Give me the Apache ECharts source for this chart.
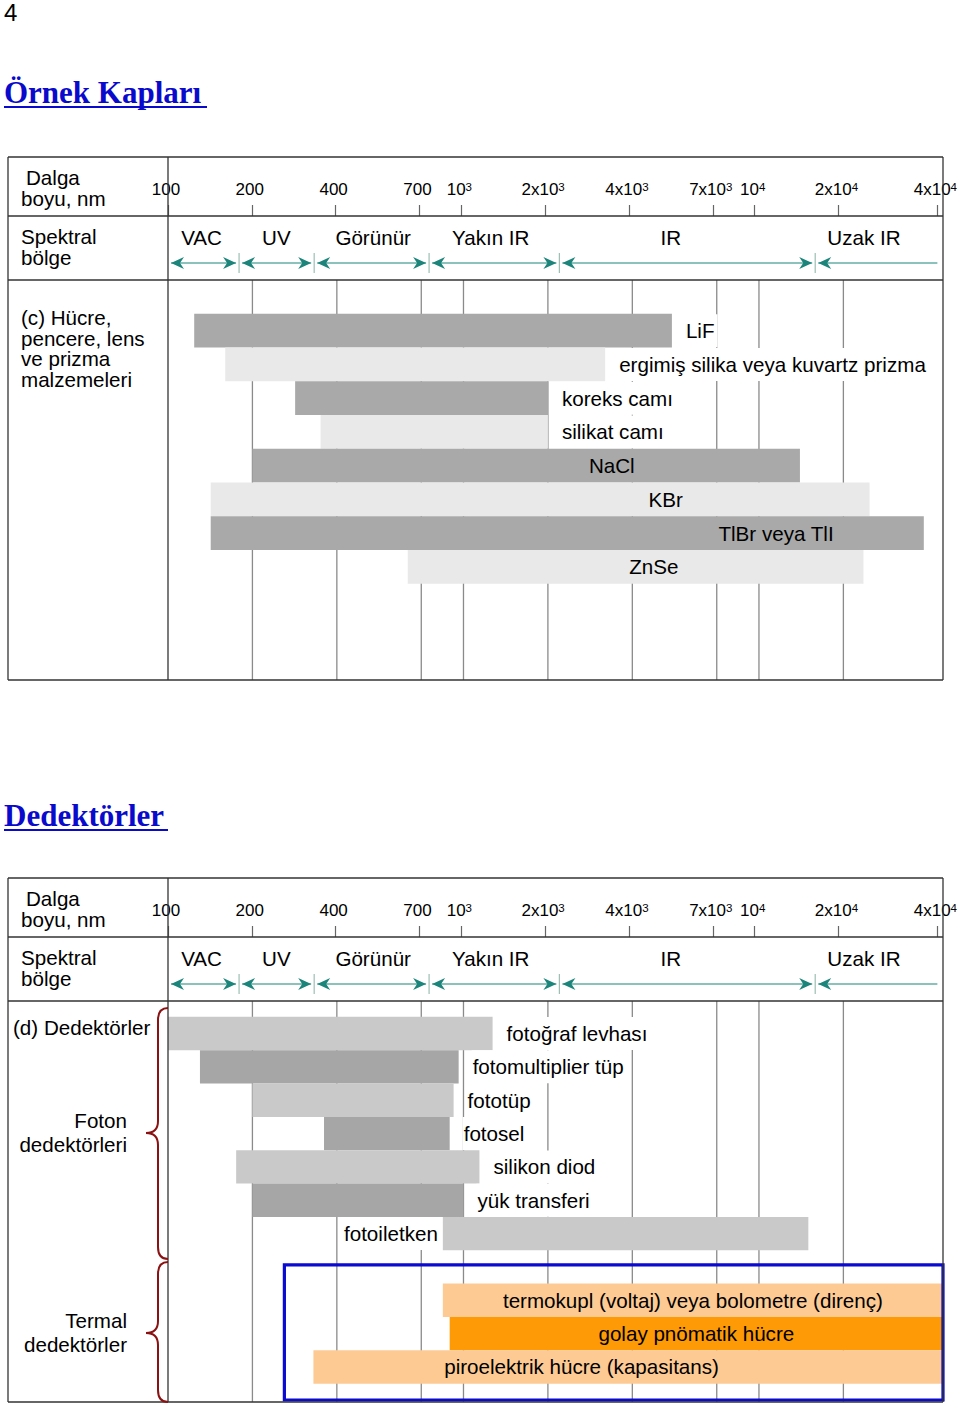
<!DOCTYPE html>
<html>
<head>
<meta charset="utf-8">
<title>Örnek Kapları / Dedektörler</title>
<script src="https://cdn.jsdelivr.net/npm/echarts@6/dist/echarts.min.js"></script>
<style>
  html, body { margin: 0; padding: 0; background: #fff; }
  #chart { width: 960px; height: 1406px; }
</style>
</head>
<body>
<div id="chart"></div>
<script>
// dalga boyu ekseni (nm) ve etiketleri
const tickNm = [100, 200, 400, 700, 1000, 2000, 4000, 7000, 10000, 20000, 40000];
const tickLabels = ['100', '200', '400', '700', '10^3', '2x10^3', '4x10^3', '7x10^3', '10^4', '2x10^4', '4x10^4'];

// spektral bölgeler
const regionNames = ['VAC', 'UV', 'Görünür', 'Yakın IR', 'IR', 'Uzak IR'];
const regionEdgesNm = [100, 180, 335, 760, 2250, 16500, 40000];
const regionLabelNm = [132, 245, 514, 1275, 5290, 23900];

// (c) hücre, pencere, lens ve prizma malzemeleri
const materialNames = ['LiF', 'ergimiş silika veya kuvartz prizma', 'koreks camı', 'silikat camı', 'NaCl', 'KBr', 'TlBr veya TlI', 'ZnSe'];
const materialFromNm = [124, 160, 284, 350, 200, 142, 142, 640];
const materialToNm = [5200, 3200, 2000, 2000, 14000, 24000, 35000, 23000];
const materialLabelAt = ['end', 'end', 'end', 'end', 2800, 4450, 7100, 3900];

// (d) foton dedektörleri
const photonNames = ['fotoğraf levhası', 'fotomultiplier tüp', 'fototüp', 'fotosel', 'silikon diod', 'yük transferi', 'fotoiletken'];
const photonFromNm = [100, 130, 200, 360, 175, 200, 840];
const photonToNm = [1270, 960, 920, 890, 1140, 1000, 15000];
const photonLabelAt = ['end', 'end', 'end', 'end', 'end', 'end', 'start'];

// termal dedektörler
const thermalNames = ['termokupl (voltaj) veya bolometre (direnç)', 'golay pnömatik hücre', 'piroelektrik hücre (kapasitans)'];
const thermalFromNm = [840, 890, 330];
const thermalToNm = [40000, 40000, 40000];
const thermalLabelAt = ['center', 'center', 850];
const thermalBoxNm = [260, 40000];

const FONT = '"Liberation Sans", Arial, sans-serif';
const TEXT = '20.6px ' + FONT;
const TEAL = '#1b857b';

// şematik eksen: işaretler arası eşit olmayan aralıklar
const tickPos = [0, 1, 2, 3, 3.5, 4.5, 5.5, 6.5, 7, 8, 9.18];
const axisMax = tickPos[tickPos.length - 1];

function toAxis(nm) {
  for (let i = 0; i < tickNm.length - 1; i++) {
    if (nm <= tickNm[i + 1]) {
      const f = Math.log(nm / tickNm[i]) / Math.log(tickNm[i + 1] / tickNm[i]);
      return tickPos[i] + f * (tickPos[i + 1] - tickPos[i]);
    }
  }
  return axisMax;
}

function headerAxis(gi) {
  return {
    type: 'value', gridIndex: gi, min: 0, max: axisMax, position: 'top',
    axisLine: { show: false },
    splitLine: { show: false },
    axisTick: { show: true, customValues: tickPos, length: 11, lineStyle: { color: '#666', width: 1.2 } },
    axisLabel: {
      show: true,
      customValues: tickPos,
      margin: 18,
      color: '#000',
      fontSize: 17,
      fontFamily: FONT,
      padding: [0, 4, 0, 0],
      formatter: (v) => {
        const i = tickPos.findIndex((p) => Math.abs(p - v) < 1e-6);
        return i < 0 ? '' : tickLabels[i].replace(/\^(\d)/, '{s|$1}');
      },
      rich: { s: { fontSize: 11.5, fontFamily: FONT, color: '#000', verticalAlign: 'top', lineHeight: 11 } }
    }
  };
}

function plainAxis(gi) {
  return { type: 'value', gridIndex: gi, min: 0, max: axisMax, show: false };
}

function gridLines(params, api) {
  const cs = params.coordSys;
  const x = api.coord([api.value(0), 0])[0];
  return {
    type: 'line',
    shape: { x1: x, y1: cs.y, x2: x, y2: cs.y + cs.height },
    style: { stroke: '#8a8a8a', lineWidth: 1.3 }
  };
}

function arrows(params, api) {
  const i = params.dataIndex;
  const last = i === regionNames.length - 1;
  const p1 = api.coord([api.value(0), 0.734]);
  const p2 = api.coord([api.value(1), 0.734]);
  const pl = api.coord([api.value(2), 0.33]);
  const y = p1[1];
  const xs = p1[0] + 3;
  const xe = last ? p2[0] : p2[0] - 3;
  const children = [
    { type: 'line', shape: { x1: xs, y1: y, x2: xe, y2: y }, style: { stroke: TEAL, lineWidth: 1.2 } },
    { type: 'polygon', shape: { points: [[xs, y], [xs + 13, y - 6], [xs + 9, y], [xs + 13, y + 6]] }, style: { fill: TEAL } },
    { type: 'text', style: { text: regionNames[i], x: pl[0], y: pl[1], align: 'center', verticalAlign: 'middle', font: TEXT, fill: '#000' } }
  ];
  if (!last) {
    children.push({ type: 'polygon', shape: { points: [[xe, y], [xe - 13, y - 6], [xe - 9, y], [xe - 13, y + 6]] }, style: { fill: TEAL } });
    children.push({ type: 'line', shape: { x1: p2[0], y1: y - 10, x2: p2[0], y2: y + 10 }, style: { stroke: '#9cbfb4', lineWidth: 1.2 } });
  }
  return { type: 'group', children };
}

function bars(names, labelAt, colors) {
  return function (params, api) {
    const i = params.dataIndex;
    const row = api.value(2);
    const a = api.coord([api.value(0), row]);
    const b = api.coord([api.value(1), row]);
    const h = api.size([0, 1])[1];
    const children = [
      { type: 'rect', shape: { x: a[0], y: a[1] - h / 2, width: b[0] - a[0], height: h }, style: { fill: colors[i % colors.length] } }
    ];
    const mode = labelAt[i];
    const txt = { text: names[i], y: a[1], verticalAlign: 'middle', font: TEXT, fill: '#000' };
    if (mode === 'end') {
      Object.assign(txt, { x: b[0] + 13, align: 'left', backgroundColor: '#fff', padding: [6, 3, 6, 1] });
    } else if (mode === 'start') {
      Object.assign(txt, { x: a[0] - 4, align: 'right', backgroundColor: '#fff', padding: [6, 1, 6, 3] });
    } else if (mode === 'center') {
      Object.assign(txt, { x: (a[0] + b[0]) / 2, align: 'center' });
    } else {
      Object.assign(txt, { x: api.coord([toAxis(mode), row])[0], align: 'left' });
    }
    children.push({ type: 'text', style: txt });
    return { type: 'group', children };
  };
}

function thermalBox(params, api) {
  const a = api.coord([api.value(0), api.value(2)]);
  const b = api.coord([api.value(1), api.value(3)]);
  return {
    type: 'rect',
    shape: { x: a[0], y: a[1], width: b[0] - a[0], height: b[1] - a[1] },
    style: { fill: 'none', stroke: '#0a0ad0', lineWidth: 3.2 }
  };
}

const innerTicks = tickPos.slice(1, -1).map((p) => [p]);
const regionData = regionNames.map((n, i) => [toAxis(regionEdgesNm[i]), toAxis(regionEdgesNm[i + 1]), toAxis(regionLabelNm[i])]);
const materialData = materialNames.map((n, i) => [toAxis(materialFromNm[i]), toAxis(materialToNm[i]), i]);
const photonData = photonNames.map((n, i) => [toAxis(photonFromNm[i]), toAxis(photonToNm[i]), i]);
const thermalFirst = photonNames.length + 1;
const thermalLast = thermalFirst + thermalNames.length - 1;
const thermalData = thermalNames.map((n, i) => [toAxis(thermalFromNm[i]), toAxis(thermalToNm[i]), thermalFirst + i]);
const boxData = [[toAxis(thermalBoxNm[0]), toAxis(thermalBoxNm[1]), thermalFirst - 1.06, thermalLast + 0.99]];

// tablo çerçeveleri ve sabit metinler
const frameLine = (x1, y1, x2, y2) => ({ type: 'line', silent: true, z: 10, shape: { x1, y1, x2, y2 }, style: { stroke: '#333', lineWidth: 1.3 } });
function tableFrame(top, bottom) {
  return [
    frameLine(8, top, 943, top),
    frameLine(8, bottom, 943, bottom),
    frameLine(8, top, 8, bottom),
    frameLine(943, top, 943, bottom),
    frameLine(8, top + 59, 943, top + 59),
    frameLine(8, top + 123, 943, top + 123),
    frameLine(168, top, 168, bottom)
  ];
}
function label(text, x, y, opts) {
  return { type: 'text', silent: true, x, y, z: 11, style: Object.assign({ text, font: TEXT, fill: '#000', verticalAlign: 'middle' }, opts || {}) };
}
function headerTexts(top) {
  return [
    label('Dalga', 26, top + 20),
    label('boyu, nm', 21, top + 41),
    label('Spektral', 21, top + 79),
    label('bölge', 21, top + 100)
  ];
}
// süslü parantez: üst/alt kıvrım, iki dikey parça ve uç
function brace(top, tip, bottom) {
  const st = { stroke: '#8a1212', lineWidth: 2, fill: 'none' };
  const q = (x1, y1, cx, cy, x2, y2) => ({ type: 'bezierCurve', silent: true, z: 12, shape: { x1, y1, cpx1: cx, cpy1: cy, x2, y2 }, style: st });
  const l = (x1, y1, x2, y2) => ({ type: 'line', silent: true, z: 12, shape: { x1, y1, x2, y2 }, style: st });
  return [
    q(168, top, 158, top, 158, top + 12),
    l(158, top + 12, 158, tip - 12),
    q(158, tip - 12, 158, tip, 146, tip),
    q(146, tip, 158, tip, 158, tip + 12),
    l(158, tip + 12, 158, bottom - 12),
    q(158, bottom - 12, 158, bottom, 168, bottom)
  ];
}

const option = {
  animation: false,
  backgroundColor: '#fff',
  grid: [
    { left: 168, right: 17, top: 216, height: 64 },
    { left: 168, right: 17, top: 280, height: 400 },
    { left: 168, right: 17, top: 937, height: 64 },
    { left: 168, right: 17, top: 1001, height: 401 }
  ],
  xAxis: [headerAxis(0), plainAxis(1), headerAxis(2), plainAxis(3)],
  yAxis: [
    { type: 'value', gridIndex: 0, min: 0, max: 1, inverse: true, show: false },
    { type: 'value', gridIndex: 1, min: -1.5, max: 10.35, inverse: true, show: false },
    { type: 'value', gridIndex: 2, min: 0, max: 1, inverse: true, show: false },
    { type: 'value', gridIndex: 3, min: -0.975, max: 11.05, inverse: true, show: false }
  ],
  series: [
    { type: 'custom', xAxisIndex: 1, yAxisIndex: 1, z: 1, silent: true, renderItem: gridLines, data: innerTicks },
    { type: 'custom', xAxisIndex: 3, yAxisIndex: 3, z: 1, silent: true, renderItem: gridLines, data: innerTicks },
    { type: 'custom', xAxisIndex: 0, yAxisIndex: 0, z: 3, silent: true, renderItem: arrows, data: regionData },
    { type: 'custom', xAxisIndex: 2, yAxisIndex: 2, z: 3, silent: true, renderItem: arrows, data: regionData },
    { type: 'custom', xAxisIndex: 1, yAxisIndex: 1, z: 2, silent: true, renderItem: bars(materialNames, materialLabelAt, ['#a9a9a9', '#e9e9e9']), data: materialData },
    { type: 'custom', xAxisIndex: 3, yAxisIndex: 3, z: 2, silent: true, renderItem: bars(photonNames, photonLabelAt, ['#c9c9c9', '#a6a6a6']), data: photonData },
    { type: 'custom', xAxisIndex: 3, yAxisIndex: 3, z: 2, silent: true, renderItem: bars(thermalNames, thermalLabelAt, ['#fdca94', '#fd9a05', '#fdca94']), data: thermalData },
    { type: 'custom', xAxisIndex: 3, yAxisIndex: 3, z: 4, silent: true, renderItem: thermalBox, data: boxData }
  ],
  graphic: [
    label('4', 4, 12, { font: '24px ' + FONT }),
    label('Örnek Kapları', 4, 92, { font: 'bold 31px "Liberation Serif", "Times New Roman", serif', fill: '#0a0acc' }),
    { type: 'line', silent: true, shape: { x1: 4, y1: 107, x2: 207, y2: 107 }, style: { stroke: '#0a0acc', lineWidth: 2 } },
    label('Dedektörler', 4, 815, { font: 'bold 31px "Liberation Serif", "Times New Roman", serif', fill: '#0a0acc' }),
    { type: 'line', silent: true, shape: { x1: 4, y1: 830, x2: 168, y2: 830 }, style: { stroke: '#0a0acc', lineWidth: 2 } },
    ...tableFrame(157, 680),
    ...tableFrame(878, 1402),
    ...headerTexts(157),
    ...headerTexts(878),
    label('(c) Hücre,\npencere, lens\nve prizma\nmalzemeleri', 21, 307, { verticalAlign: 'top', lineHeight: 20.7 }),
    label('(d) Dedektörler', 13, 1027),
    label('Foton\ndedektörleri', 127, 1108, { align: 'right', verticalAlign: 'top', lineHeight: 24.5 }),
    label('Termal\ndedektörler', 127, 1308, { align: 'right', verticalAlign: 'top', lineHeight: 24.5 }),
    ...brace(1008, 1133, 1259),
    ...brace(1262, 1333, 1402)
  ]
};

const chart = echarts.init(document.getElementById('chart'), null, { renderer: 'svg' });
chart.setOption(option);
</script>
</body>
</html>
